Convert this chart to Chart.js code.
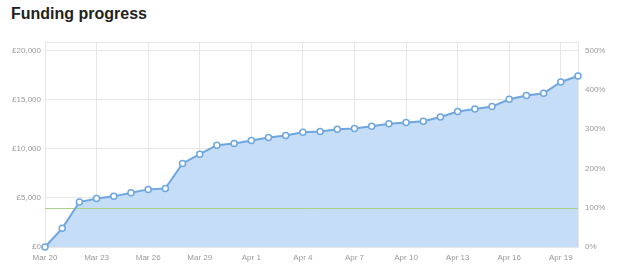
<!DOCTYPE html>
<html>
<head>
<meta charset="utf-8">
<script src="https://cdn.jsdelivr.net/npm/chart.js@4"></script>
<style>
  html, body { margin: 0; padding: 0; background: #fff; }
  #wrap { position: relative; width: 620px; height: 275px; }
  #title { position: absolute; left: 11px; top: 5px; font: bold 16px "Liberation Sans", Arial, sans-serif; color: #222; }
  canvas { position: absolute; left: 0; top: 0; }
</style>
</head>
<body>
<div id="wrap">
  <div id="title">Funding progress</div>
  <canvas id="c" width="620" height="275"></canvas>
</div>
<script>
const categories = ['Mar 20','Mar 21','Mar 22','Mar 23','Mar 24','Mar 25','Mar 26','Mar 27','Mar 28','Mar 29','Mar 30','Mar 31',
  'Apr 1','Apr 2','Apr 3','Apr 4','Apr 5','Apr 6','Apr 7','Apr 8','Apr 9','Apr 10','Apr 11','Apr 12','Apr 13','Apr 14',
  'Apr 15','Apr 16','Apr 17','Apr 18','Apr 19','Apr 20'];
const funding = [0, 1900, 4570, 4940, 5150, 5510, 5860, 5960, 8500, 9440, 10360, 10530,
  10830, 11140, 11340, 11680, 11750, 11980, 12050, 12280, 12540, 12660, 12790, 13230, 13780, 14040,
  14280, 15030, 15400, 15640, 16780, 17390];
const target = 4000;
const leftTicks = [0, 5000, 10000, 15000, 20000];
const rightTicks = [0, 100, 200, 300, 400, 500];
const yMax = 20850;

const FONT = { family: '"Liberation Sans", Arial, sans-serif', size: 8 };
const GRID = '#e6e6e6';

const targetLine = {
  id: 'targetLine',
  beforeDatasetsDraw(chart) {
    const y = Math.round(chart.scales.y.getPixelForValue(target)) + 0.5;
    const a = chart.chartArea, ctx = chart.ctx;
    ctx.save();
    ctx.strokeStyle = '#a9d18e';
    ctx.lineWidth = 1;
    ctx.beginPath(); ctx.moveTo(a.left, y); ctx.lineTo(a.right, y); ctx.stroke();
    ctx.restore();
  }
};

new Chart(document.getElementById('c'), {
  type: 'line',
  data: {
    labels: categories,
    datasets: [{
      data: funding,
      borderColor: '#6ea6df',
      backgroundColor: '#c6ddf8',
      fill: 'origin',
      borderWidth: 2,
      tension: 0,
      pointRadius: 3,
      pointBorderWidth: 1.5,
      pointBackgroundColor: '#ffffff',
      pointBorderColor: '#6ea6df',
      clip: false
    }]
  },
  options: {
    responsive: false,
    animation: false,
    events: [],
    layout: { padding: { top: 42, left: 0, right: 0, bottom: 0 } },
    plugins: {
      legend: { display: false },
      tooltip: { enabled: false },
      filler: { drawTime: 'beforeDatasetsDraw' }
    },
    scales: {
      x: {
        type: 'category',
        offset: false,
        grid: { color: GRID, drawTicks: false },
        border: { display: false },
        ticks: { color: '#999', font: FONT, padding: 6, autoSkip: false, maxRotation: 0 },
        afterBuildTicks(s) { s.ticks = s.ticks.filter((t, i) => i % 3 === 0); },
        afterFit(s) { s.height = 28; }
      },
      y: {
        position: 'left',
        min: 0, max: yMax,
        grid: { color: GRID, drawTicks: false },
        border: { display: true, color: GRID },
        ticks: {
          color: '#999', font: FONT, padding: 4,
          callback: v => v === yMax ? '' : '£' + v.toLocaleString('en-GB')
        },
        afterBuildTicks(s) { s.ticks = leftTicks.concat([yMax]).map(v => ({ value: v })); },
        afterFit(s) { s.width = 45; }
      },
      y2: {
        position: 'right',
        min: 0, max: yMax / target * 100,
        grid: { display: false, drawTicks: false },
        border: { display: true, color: GRID },
        ticks: { color: '#999', font: FONT, padding: 7, callback: v => v + '%' },
        afterBuildTicks(s) { s.ticks = rightTicks.map(v => ({ value: v })); },
        afterFit(s) { s.width = 42; }
      }
    }
  },
  plugins: [targetLine]
});
</script>
</body>
</html>
